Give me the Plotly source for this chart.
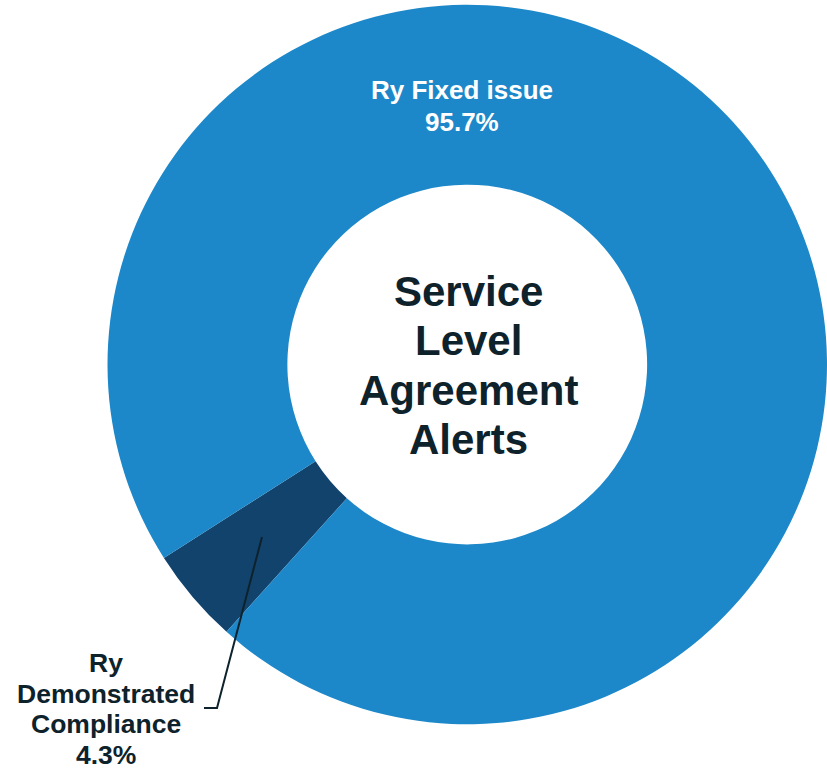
import plotly.graph_objects as go

labels = ["Ry Demonstrated Compliance", "Ry Fixed issue"]
values = [4.3, 95.7]
colors = ["#12436d", "#1d88c9"]
center_lines = ["Service", "Level", "Agreement", "Alerts"]
small_label_lines = ["Ry", "Demonstrated", "Compliance"]
big_label_lines = ["Ry Fixed issue"]

W, H = 827, 768
TEXT_DARK = "#0e222c"
FONT = "Liberation Sans, Arial, sans-serif"

fig = go.Figure(go.Pie(
    labels=labels,
    values=values,
    hole=0.5,
    sort=False,
    direction="clockwise",
    rotation=222,
    marker=dict(colors=colors, line=dict(width=0)),
    textinfo="none",
    hoverinfo="label+percent",
    showlegend=False,
    domain=dict(x=[107.5 / W, 1.0], y=[43.5 / H, 763.5 / H]),
))


def px_x(x):
    return x / W


def px_y(y):
    return (H - y) / H


def add_lines(lines, x, y0, pitch, size, color):
    for i, line in enumerate(lines):
        fig.add_annotation(
            x=px_x(x), y=px_y(y0 + i * pitch), xref="paper", yref="paper",
            text="<b>%s</b>" % line, showarrow=False,
            font=dict(family=FONT, size=size, color=color),
            xanchor="center", yanchor="middle", align="center",
        )


add_lines(center_lines, 468, 291, 49.5, 42, TEXT_DARK)
add_lines(big_label_lines + ["%.1f%%" % values[1]], 461.5, 90, 32, 26, "white")
add_lines(small_label_lines + ["%.1f%%" % values[0]], 105.5, 663, 30.7, 26.5, TEXT_DARK)

fig.add_shape(
    type="path", xref="paper", yref="paper",
    path="M %f %f L %f %f L %f %f" % (px_x(262), px_y(537), px_x(217), px_y(708), px_x(204), px_y(708)),
    line=dict(color=TEXT_DARK, width=2),
)

fig.update_layout(
    width=W, height=H,
    margin=dict(l=0, r=0, t=0, b=0),
    paper_bgcolor="white", plot_bgcolor="white",
)

fig.write_html(
    "out.html",
    config={"displayModeBar": False},
    post_script="document.body.style.margin='0';document.body.style.overflow='hidden';",
)
